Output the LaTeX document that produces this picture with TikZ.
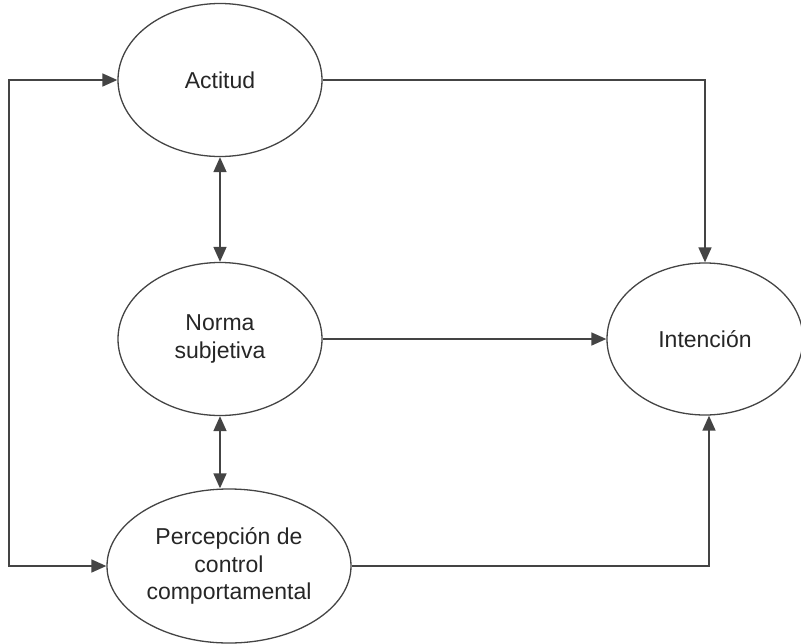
\documentclass[tikz,border=0pt]{standalone}
\usepackage{fontspec}
\setmainfont{Liberation Sans}
\usetikzlibrary{shapes.geometric,arrows.meta}
\definecolor{linegray}{HTML}{444444}
\definecolor{textgray}{HTML}{262626}
\begin{document}
\begin{tikzpicture}[x=1pt,y=-1pt,
  construct/.style={ellipse,draw=linegray,line width=1.3pt,inner sep=0pt,
    align=center,text=textgray,font=\fontsize{23}{27.5}\selectfont},
  link/.style={draw=linegray,line width=1.6pt,-{Triangle[length=15pt,width=13pt]}},
  duallink/.style={draw=linegray,line width=1.6pt,
    {Triangle[length=15pt,width=13pt]}-{Triangle[length=15pt,width=13pt]}}]
\useasboundingbox (0,0) rectangle (801,643);
\node[construct,minimum width=204pt,minimum height=153pt] (A) at (220,80) {Actitud};
\node[construct,minimum width=204pt,minimum height=153pt] (N) at (220,339) {Norma\\subjetiva};
\node[construct,minimum width=244pt,minimum height=154pt] (P) at (229,566) {Percepción de\\control\\comportamental};
\node[construct,minimum width=196pt,minimum height=152pt] (I) at (705,339) {Intención};
\coordinate (loop) at (9,320);
\draw[link] (A.east) -| (I.north);
\draw[link] (N.east) -- (I.west);
\draw[link] (P.east) -| ([xshift=4pt]I.south);
\draw[duallink] (A.south) -- (N.north);
\draw[duallink] (N.south) -- (N.south |- P.north);
\draw[duallink] (A.west) -| (loop) |- (P.west);
\end{tikzpicture}
\end{document}
